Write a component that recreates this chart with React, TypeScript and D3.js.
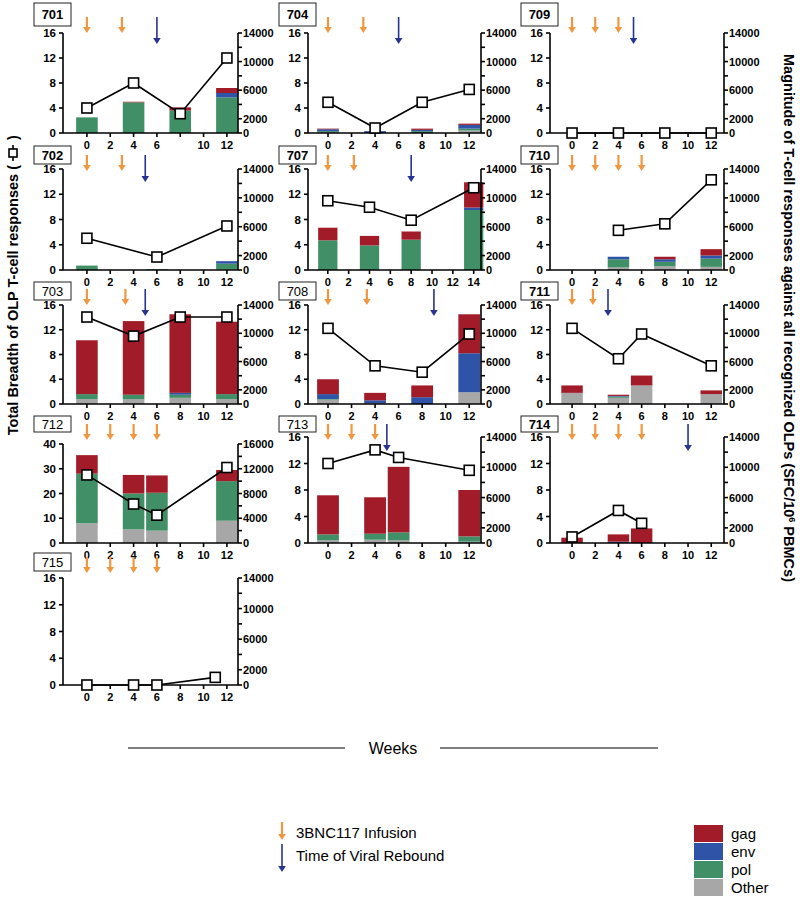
import React, { useLayoutEffect } from "react";
import * as d3 from "d3";

const FONT = "'Liberation Sans', Arial, Helvetica, sans-serif";

const stackKeys = ["other", "pol", "env", "gag"];
const stackColors: Record<string, string> = {
  other: "#a7a7a7",
  pol: "#418f66",
  env: "#2f53a6",
  gag: "#a11c28",
};
const legendKeys = ["gag", "env", "pol", "Other"];

// bars: [week, other, pol, env, gag]  (breadth, left axis)
// line: [week, SFC/10^6 PBMCs]        (magnitude, right axis)
const bars701 = [[0, 0, 2.5, 0, 0], [4, 0, 4.9, 0, 0.1], [8, 0, 3.6, 0, 0.5], [12, 0, 5.7, 0.7, 0.8]];
const line701 = [[0, 3500], [4, 7000], [8, 2700], [12, 10500]];
const infusion701 = [0, 3];
const rebound701 = [6];

const bars704 = [[0, 0.1, 0.2, 0.3, 0.1], [4, 0, 0, 0.3, 0], [8, 0, 0.3, 0.2, 0.2], [12, 0.4, 0.3, 0.6, 0.2]];
const line704 = [[0, 4300], [4, 700], [8, 4300], [12, 6100]];
const infusion704 = [0, 3];
const rebound704 = [6];

const bars709: number[][] = [];
const line709 = [[0, 0], [4, 0], [8, 0], [12, 0]];
const infusion709 = [0, 2, 4];
const rebound709 = [5.3];

const bars702 = [[0, 0, 0.7, 0, 0], [6, 0.05, 0.1, 0, 0], [12, 0.1, 0.9, 0.4, 0]];
const line702 = [[0, 4400], [6, 1800], [12, 6100]];
const infusion702 = [0, 3];
const rebound702 = [5];

const bars707 = [[0, 0, 4.7, 0, 2.0], [4, 0, 3.9, 0, 1.5], [8, 0, 4.8, 0, 1.3], [14, 0, 9.5, 0.4, 4.0]];
const line707 = [[0, 9600], [4, 8700], [8, 6900], [14, 11400]];
const infusion707 = [0, 2.5];
const rebound707 = [8];

const bars710 = [[4, 0.4, 1.3, 0.4, 0], [8, 0.6, 0.7, 0.4, 0.4], [12, 0.5, 1.3, 0.5, 1.0]];
const line710 = [[4, 5500], [8, 6400], [12, 12500]];
const infusion710 = [0, 2, 4, 6];
const rebound710: number[] = [];

const bars703 = [[0, 0.8, 0.8, 0, 8.7], [4, 0.8, 0.7, 0, 11.9], [8, 1.0, 0.5, 0.3, 12.7], [12, 0.8, 0.8, 0, 11.7]];
const line703 = [[0, 12300], [4, 9600], [8, 12300], [12, 12300]];
const infusion703 = [0, 3.3];
const rebound703 = [5];

const bars708 = [[0, 0.7, 0.1, 0.8, 2.4], [4, 0.1, 0, 0.5, 1.2], [8, 0, 0, 1.1, 1.9], [12, 1.9, 0, 6.3, 6.3]];
const line708 = [[0, 10700], [4, 5400], [8, 4500], [12, 9900]];
const infusion708 = [0, 3.3];
const rebound708 = [9];

const bars711 = [[0, 1.8, 0, 0, 1.2], [4, 1.0, 0.2, 0.1, 0.2], [6, 3.0, 0, 0, 1.6], [12, 1.6, 0, 0, 0.6]];
const line711 = [[0, 10700], [4, 6400], [6, 9900], [12, 5400]];
const infusion711 = [0, 1.8];
const rebound711 = [3.1];

const bars712 = [[0, 8, 20, 0, 7.5], [4, 5.5, 14.5, 0, 7.5], [6, 5, 15.3, 0, 7], [12, 9, 16, 0, 4.5]];
const line712 = [[0, 11000], [4, 6300], [6, 4500], [12, 12200]];
const infusion712 = [0, 2, 4, 6];
const rebound712: number[] = [];

const bars713 = [[0, 0.4, 0.9, 0, 5.9], [4, 0.5, 0.9, 0, 5.5], [6, 0.4, 1.2, 0, 9.9], [12, 0.2, 0.8, 0, 7.0]];
const line713 = [[0, 10500], [4, 12300], [6, 11300], [12, 9600]];
const infusion713 = [0, 2, 4];
const rebound713 = [5];

const bars714 = [[0, 0, 0, 0, 0.8], [4, 0, 0, 0.2, 1.1], [6, 0, 0, 0, 2.2]];
const line714 = [[0, 800], [4, 4300], [6, 2600]];
const infusion714 = [0, 2, 4, 6];
const rebound714 = [10];

const bars715: number[][] = [];
const line715 = [[0, 0], [4, 0], [6, 0], [11, 1000]];
const infusion715 = [0, 2, 4, 6];
const rebound715: number[] = [];

const weekTicks = [0, 2, 4, 6, 8, 10, 12];
const weekTicks707 = [0, 2, 4, 6, 8, 10, 12, 14];
const leftTicks = [0, 4, 8, 12, 16];
const leftTicks712 = [0, 10, 20, 30, 40];
const rightLabels = [0, 2000, 6000, 10000, 14000];
const rightLabels712 = [0, 4000, 8000, 12000, 16000];

// layout
const colLeft = [63, 308, 550];
const colRight = [238, 481, 724];
const colDomain = [[-2.05, 12.95], [-1.7, 13.0], [-1.9, 13.1]];
const rowTop = [33, 169, 305, 437, 578];
const rowBottom = [133, 270, 404, 543, 685];
const boxTop = [3, 146, 282, 416, 553];
const boxH = [23, 18, 18, 16, 18];
const arrowTop = [17, 155, 289, 424, 557];

type Panel = {
  id: string; col: number; row: number; bars: number[][]; line: number[][];
  inf: number[]; reb: number[]; bold?: boolean;
  yMax?: number; rMax?: number; yTicks?: number[]; rLabels?: number[];
  xTicks?: number[]; xHide?: number[]; domain?: number[]; top?: number;
};

const panels: Panel[] = [
  { id: "701", col: 0, row: 0, bars: bars701, line: line701, inf: infusion701, reb: rebound701, bold: true, xHide: [8] },
  { id: "704", col: 1, row: 0, bars: bars704, line: line704, inf: infusion704, reb: rebound704, bold: true },
  { id: "709", col: 2, row: 0, bars: bars709, line: line709, inf: infusion709, reb: rebound709, bold: true },
  { id: "702", col: 0, row: 1, bars: bars702, line: line702, inf: infusion702, reb: rebound702, bold: true },
  { id: "707", col: 1, row: 1, bars: bars707, line: line707, inf: infusion707, reb: rebound707, bold: true, xTicks: weekTicks707, domain: [-1.9, 14.7] },
  { id: "710", col: 2, row: 1, bars: bars710, line: line710, inf: infusion710, reb: rebound710, bold: true },
  { id: "703", col: 0, row: 2, bars: bars703, line: line703, inf: infusion703, reb: rebound703 },
  { id: "708", col: 1, row: 2, bars: bars708, line: line708, inf: infusion708, reb: rebound708 },
  { id: "711", col: 2, row: 2, bars: bars711, line: line711, inf: infusion711, reb: rebound711, bold: true },
  { id: "712", col: 0, row: 3, bars: bars712, line: line712, inf: infusion712, reb: rebound712, yMax: 40, rMax: 16000, yTicks: leftTicks712, rLabels: rightLabels712, top: 444 },
  { id: "713", col: 1, row: 3, bars: bars713, line: line713, inf: infusion713, reb: rebound713 },
  { id: "714", col: 2, row: 3, bars: bars714, line: line714, inf: infusion714, reb: rebound714, bold: true },
  { id: "715", col: 0, row: 4, bars: bars715, line: line715, inf: infusion715, reb: rebound715 },
];

const ORANGE = "#f0973f";
const BLUE = "#283492";

function Arrow({ x, y0, y1, color, w }: { x: number; y0: number; y1: number; color: string; w: number }) {
  const hw = 3.8;
  const hh = 6;
  return (
    <g>
      <line x1={x} x2={x} y1={y0} y2={y1 - hh + 1} stroke={color} strokeWidth={w} />
      <path d={`M${x - hw},${y1 - hh} L${x + hw},${y1 - hh} L${x},${y1} Z`} fill={color} />
    </g>
  );
}

function PanelChart({ p }: { p: Panel }) {
  const left = colLeft[p.col];
  const right = colRight[p.col];
  const top = p.top ?? rowTop[p.row];
  const bottom = rowBottom[p.row];
  const yMax = p.yMax ?? 16;
  const rMax = p.rMax ?? 14000;
  const x = d3.scaleLinear().domain(p.domain ?? colDomain[p.col]).range([left, right]);
  const y = d3.scaleLinear().domain([0, yMax]).range([bottom, top]);
  const yR = d3.scaleLinear().domain([0, rMax]).range([bottom, top]);
  const barW = x(1.85) - x(0);

  const rows = p.bars.map((b) => ({ week: b[0], other: b[1], pol: b[2], env: b[3], gag: b[4] }));
  const series = d3.stack<any>().keys(stackKeys)(rows);
  const lineGen = d3.line<number[]>().x((d) => x(d[0])).y((d) => yR(d[1]));
  const xTicks = p.xTicks ?? weekTicks;
  const yTicks = p.yTicks ?? leftTicks;
  const rLabels = p.rLabels ?? rightLabels;
  const rTicks = d3.range(0, rMax + 1, 2000);
  const at = arrowTop[p.row];
  const bt = boxTop[p.row];
  const bh = boxH[p.row];

  return (
    <g>
      <rect x={left - 29} y={bt} width={37} height={bh} fill="#fff" stroke="#222" strokeWidth={1} />
      <text x={left - 10.5} y={bt + bh / 2 + 4.5} textAnchor="middle" fontSize={13} fontWeight={p.bold ? "bold" : "normal"}>
        {p.id}
      </text>

      {series.map((s) => (
        <g key={s.key} fill={stackColors[s.key]}>
          {s.map((d, i) =>
            d[1] - d[0] > 0 ? (
              <rect key={i} x={x(d.data.week) - barW / 2} y={y(d[1])} width={barW} height={y(d[0]) - y(d[1])} />
            ) : null
          )}
        </g>
      ))}

      {/* axes */}
      <g stroke="#000" strokeWidth={1.6} fill="none">
        <line x1={left} x2={left} y1={top} y2={bottom} />
        <line x1={right} x2={right} y1={top} y2={bottom} />
        <line x1={left} x2={right} y1={bottom} y2={bottom} />
        {yTicks.map((t) => (
          <line key={"l" + t} x1={left - 4} x2={left} y1={y(t)} y2={y(t)} />
        ))}
        {rTicks.map((t) => (
          <line key={"r" + t} x1={right} x2={right + 4} y1={yR(t)} y2={yR(t)} />
        ))}
        {xTicks.map((t) => (
          <line key={"x" + t} x1={x(t)} x2={x(t)} y1={bottom} y2={bottom + 4} />
        ))}
      </g>
      <g fontSize={11.5} fontWeight="bold">
        {yTicks.map((t) => (
          <text key={t} x={left - 7} y={y(t) + 4} textAnchor="end">{t}</text>
        ))}
        {rLabels.map((t) => (
          <text key={t} x={right + 5} y={yR(t) + 4} fontSize={11}>{t}</text>
        ))}
        {xTicks.filter((t) => !(p.xHide ?? []).includes(t)).map((t) => (
          <text key={t} x={x(t)} y={bottom + 16} textAnchor="middle" fontSize={11}>{t}</text>
        ))}
      </g>

      <path d={lineGen(p.line) ?? ""} fill="none" stroke="#000" strokeWidth={1.6} />
      {p.line.map((d, i) => (
        <rect key={i} x={x(d[0]) - 5} y={yR(d[1]) - 5} width={10} height={10} fill="#fff" stroke="#000" strokeWidth={1.6} />
      ))}

      {p.inf.map((w, i) => (
        <Arrow key={"o" + i} x={x(w)} y0={at} y1={at + 16} color={ORANGE} w={2.2} />
      ))}
      {p.reb.map((w, i) => (
        <Arrow key={"b" + i} x={x(w)} y0={at} y1={at + 27} color={BLUE} w={1.6} />
      ))}
    </g>
  );
}

export default function App() {
  useLayoutEffect(() => {
    document.body.style.margin = "0";
  }, []);

  return (
    <svg width={800} height={897} style={{ display: "block", fontFamily: FONT }}>
      <rect x={0} y={0} width={800} height={897} fill="#fff" />
      {panels.map((p) => (
        <PanelChart key={p.id} p={p} />
      ))}

      {/* left axis title */}
      <g transform="translate(18,481) rotate(-90)" fontSize={14.5} fontWeight="bold">
        <text x={316} y={0} textAnchor="end">Total Breadth of OLP T-cell responses (</text>
        <line x1={320} x2={336} y1={-5} y2={-5} stroke="#000" strokeWidth={1.6} />
        <rect x={324} y={-9} width={8} height={8} fill="#fff" stroke="#000" strokeWidth={1.6} />
        <text x={341} y={0}>)</text>
      </g>

      {/* right axis title */}
      <text transform="translate(784,318) rotate(90)" textAnchor="middle" fontSize={14.5} fontWeight="bold">
        Magnitude of T-cell responses against all recognized OLPs (SFC/10
        <tspan dy={-5} fontSize={9}>6</tspan>
        <tspan dy={5}> PBMCs)</tspan>
      </text>

      {/* Weeks */}
      <line x1={128} x2={345} y1={748} y2={748} stroke="#000" strokeWidth={1.2} />
      <line x1={440} x2={658} y1={748} y2={748} stroke="#000" strokeWidth={1.2} />
      <text x={393} y={754} textAnchor="middle" fontSize={16}>Weeks</text>

      {/* legend */}
      <Arrow x={282} y0={822} y1={840} color={ORANGE} w={2.2} />
      <text x={296} y={838} fontSize={15}>3BNC117 Infusion</text>
      <Arrow x={282} y0={844} y1={872} color={BLUE} w={1.6} />
      <text x={296} y={861} fontSize={15}>Time of Viral Rebound</text>

      {legendKeys.map((k, i) => (
        <g key={k}>
          <rect x={694} y={825 + i * 18} width={29} height={17} fill={stackColors[k === "Other" ? "other" : k]} />
          <text x={731} y={839 + i * 18} fontSize={15}>{k}</text>
        </g>
      ))}
    </svg>
  );
}
